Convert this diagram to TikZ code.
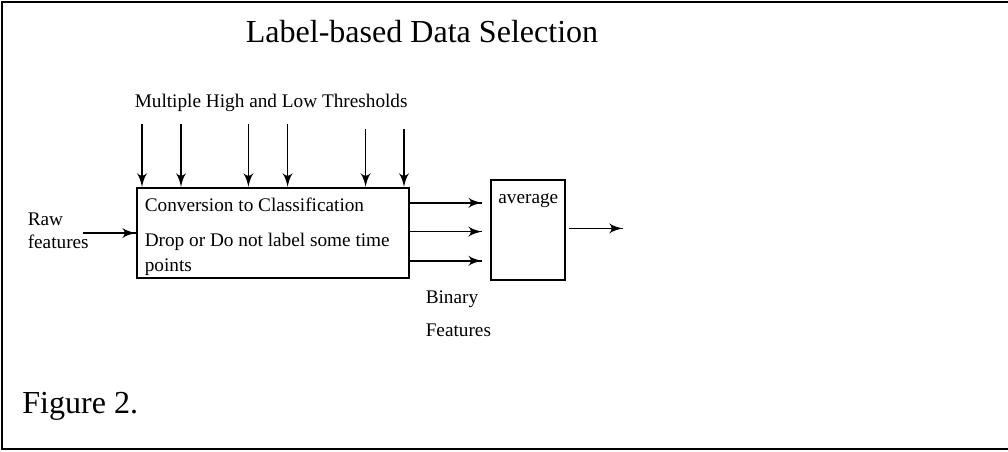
\documentclass[tikz,border=0pt]{standalone}
\usepackage{fontspec}
\setmainfont{Liberation Serif}
\usepackage{tikz}
\usetikzlibrary{arrows}
\usetikzlibrary{decorations.markings}
\usetikzlibrary{positioning}
\tikzset{->/.style = {decoration={markings,
                                  mark=at position 1 with {\arrow[scale=1.6]{latex'}}},
                      postaction={decorate}}}
\tikzset{txt/.style = {inner sep = 0, anchor = base west, font = \fontsize{13.7}{16}\selectfont}}
\tikzset{big/.style = {inner sep = 0, anchor = base west, font = \fontsize{22.8}{27}\selectfont}}
\tikzset{box/.style = {draw, inner sep = 0, line width = 1.6pt}}

\begin{document}
\begin{tikzpicture}[line width = 1.1pt]
      \useasboundingbox (0, 0) rectangle (25.2, -11.275);
      \draw [line width = 1.6pt] (25.2, -0.05) -- (0.05, -0.05) -- (0.05, -11.225) -- (25.2, -11.225);

      \node (title) at (6.125, -1.05) [big] {Label-based Data Selection};
      \node (fig) at (0.54, -10.325) [big] {Figure 2.};
      \node (thr) at (3.35, -2.69) [txt] {Multiple High and Low Thresholds};

      \node (conv) at (6.825, -5.825) [box, minimum width = 6.8cm, minimum height = 2.25cm] {};
      \node (l1) at (3.6, -5.275) [txt] {Conversion to Classification};
      \node (l2) at (3.6, -6.15) [txt] {Drop or Do not label some time};
      \node (l3) at (3.6, -6.775) [txt] {points};

      \node (avg) at (13.2, -5.75) [box, line width = 0.9pt, minimum width = 1.85cm, minimum height = 2.5cm] {};
      \node (avgtxt) at (12.44, -5.075) [txt] {average};

      \node (raw) at (0.675, -5.625) [txt] {Raw};
      \node (feat) at (0.675, -6.2) [txt] {features};
      \node (bin) at (10.625, -7.58) [txt] {Binary};
      \node (binfeat) at (10.625, -8.42) [txt] {Features};

      % thresholds
      \foreach \x/\y/\gap in {3.55/-3.1/0.25, 4.525/-3.1/0.25, 6.21/-3.1/0.25,
                              7.19/-3.1/0.25, 9.14/-3.225/0.125, 10.1/-3.225/0.125}
        {
          \coordinate (t) at (\x, \y);
          \draw [->, shorten >= \gap cm] (t) -- (t |- conv.north);
        }

      \coordinate (rawin) at (2.075, -5.825);
      \draw [->] (rawin) -- (conv);

      \coordinate (o1) at (12.05, -5.07);
      \coordinate (o2) at (12.05, -5.79);
      \coordinate (o3) at (12.05, -6.52);
      \draw [->] (conv.east |- o1) -- (o1);
      \draw [->] (conv.east |- o2) -- (o2);
      \draw [->] (conv.east |- o3) -- (o3);

      \coordinate (out) at (15.57, -5.71);
      \draw [->, shorten <= 0.075cm] (avg.east |- out) -- (out);
    \end{tikzpicture}
\end{document}
